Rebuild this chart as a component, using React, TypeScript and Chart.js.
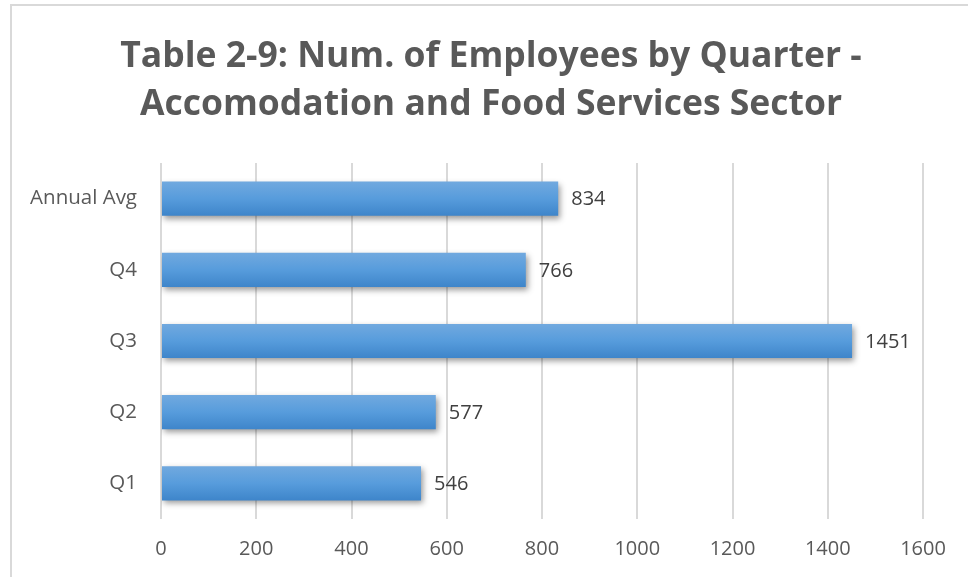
import React, { useEffect, useRef } from "react";
import { Chart, registerables } from "chart.js";

Chart.register(...registerables);

const categories = ["Annual Avg", "Q4", "Q3", "Q2", "Q1"];
const employees = [834, 766, 1451, 577, 546];
const titleLines = ["Table 2-9: Num. of Employees by Quarter -", "Accomodation and Food Services Sector"];
const xMin = 0;
const xMax = 1600;
const xStep = 200;

const FONT = "'Open Sans', 'Liberation Sans', sans-serif";

const borderPlugin = {
  id: "frameBorder",
  beforeDraw(chart: any) {
    const ctx = chart.ctx;
    ctx.save();
    ctx.fillStyle = "#ffffff";
    ctx.fillRect(0, 0, chart.width, chart.height);
    ctx.strokeStyle = "#d9d9d9";
    ctx.lineWidth = 2;
    ctx.strokeRect(11, 5, chart.width + 20, chart.height + 20);
    ctx.restore();
  },
  afterDraw(chart: any) {
    const ctx = chart.ctx;
    ctx.save();
    ctx.fillStyle = "#595959";
    ctx.font = `bold 35.5px ${FONT}`;
    ctx.textAlign = "center";
    ctx.textBaseline = "middle";
    titleLines.forEach((line, i) => {
      ctx.fillText(line, 491, 57 + i * 48);
    });
    ctx.restore();
  },
};

const shadowPlugin = {
  id: "barShadow",
  beforeDatasetsDraw(chart: any) {
    const ctx = chart.ctx;
    const meta = chart.getDatasetMeta(0);
    meta.data.forEach((bar: any) => {
      const h = bar.height / 2;
      const g = ctx.createLinearGradient(0, bar.y - h, 0, bar.y + h);
      g.addColorStop(0, "#71a9df");
      g.addColorStop(0.5, "#579cdc");
      g.addColorStop(1, "#3e85ca");
      bar.options = Object.assign({}, bar.options, { backgroundColor: g });
    });
    ctx.save();
    ctx.shadowColor = "rgba(0,0,0,0.4)";
    ctx.shadowBlur = 6;
    ctx.shadowOffsetX = 2;
    ctx.shadowOffsetY = 3;
  },
  afterDatasetsDraw(chart: any) {
    chart.ctx.restore();
    const ctx = chart.ctx;
    const meta = chart.getDatasetMeta(0);
    ctx.save();
    ctx.fillStyle = "#404040";
    ctx.font = `20px ${FONT}`;
    ctx.textAlign = "left";
    ctx.textBaseline = "middle";
    meta.data.forEach((bar: any, i: number) => {
      ctx.fillText(String(chart.data.datasets[0].data[i]), bar.x + 13, bar.y + 1);
    });
    ctx.restore();
  },
};

export default function App() {
  const ref = useRef<HTMLCanvasElement | null>(null);
  useEffect(() => {
    if (!ref.current) return;
    const chart = new Chart(ref.current, {
      type: "bar",
      data: {
        labels: categories,
        datasets: [
          {
            data: employees,
            backgroundColor: () => "#5b9bd5",
            borderWidth: 0,
            barPercentage: 0.48,
            categoryPercentage: 1,
          },
        ],
      },
      options: {
        indexAxis: "y",
        animation: false,
        responsive: false,
        maintainAspectRatio: false,
        layout: { padding: { left: 11, right: 45, top: 163, bottom: 12 } },
        plugins: {
          legend: { display: false },
          tooltip: { enabled: false },
          title: { display: false },
        },
        scales: {
          x: {
            min: xMin,
            max: xMax,
            ticks: {
              stepSize: xStep,
              color: "#595959",
              font: { family: FONT, size: 20 },
              padding: 18,
              callback: (v: any) => String(v),
            },
            grid: { color: "#d9d9d9", lineWidth: 2, drawTicks: false },
            border: { display: false },
            afterFit: (s: any) => { s.height = 46; },
          },
          y: {
            ticks: { color: "#595959", font: { family: FONT, size: 20.5 }, padding: 24 },
            grid: { display: false, drawTicks: false },
            border: { display: false },
            afterFit: (s: any) => { s.width = 150; },
          },
        },
      },
      plugins: [borderPlugin, shadowPlugin],
    } as any);
    return () => chart.destroy();
  }, []);
  return (
    <div style={{ position: "absolute", left: 0, top: 0, width: 968, height: 577 }}>
      <canvas ref={ref} width={968} height={577} style={{ display: "block" }} />
    </div>
  );
}
